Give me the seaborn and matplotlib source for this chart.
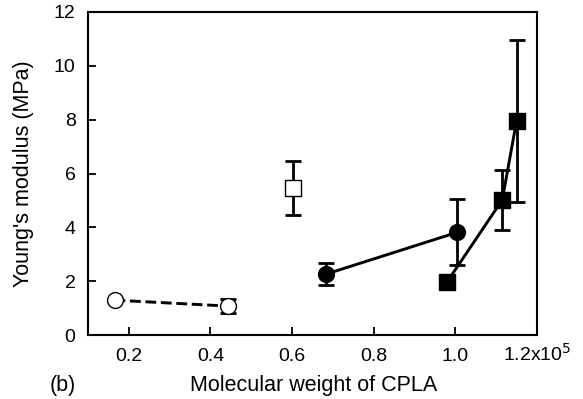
import matplotlib
matplotlib.use('Agg')
import matplotlib.pyplot as plt
import seaborn as sns
import pandas as pd

# molecular weight (x1e5) / Young's modulus (MPa) / error
open_circle_x = [0.165, 0.442]
open_circle_y = [1.30, 1.08]
open_circle_err = [0.0, 0.25]

open_square_x = [0.603]
open_square_y = [5.45]
open_square_err = [1.0]

filled_circle_x = [0.684, 1.005]
filled_circle_y = [2.27, 3.82]
filled_circle_err = [0.40, 1.22]

filled_square_x = [0.98, 1.115, 1.15]
filled_square_y = [1.98, 5.02, 7.95]
filled_square_err = [0.0, 1.12, 3.0]

x_ticks = [0.2, 0.4, 0.6, 0.8, 1.0, 1.2]
x_tick_labels = ['0.2', '0.4', '0.6', '0.8', '1.0', '1.2x10$^5$']
y_ticks = [0, 2, 4, 6, 8, 10, 12]

sns.set_style('ticks', {'axes.edgecolor': 'black', 'text.color': 'black',
                        'axes.labelcolor': 'black', 'xtick.color': 'black',
                        'ytick.color': 'black'})
plt.rcParams['font.family'] = ['Liberation Sans', 'DejaVu Sans']

fig = plt.figure(figsize=(5.83, 3.99), dpi=100)
ax = fig.add_axes([0.151, 0.160, 0.770, 0.810])

series = [
    (open_circle_x, open_circle_y, open_circle_err, 'o', 'white', '--'),
    (open_square_x, open_square_y, open_square_err, 's', 'white', ''),
    (filled_circle_x, filled_circle_y, filled_circle_err, 'o', 'black', '-'),
    (filled_square_x, filled_square_y, filled_square_err, 's', 'black', '-'),
]

for xs, ys, errs, marker, face, ls in series:
    df = pd.DataFrame({'mw': xs, 'E': ys, 'err': errs})
    ax.errorbar(df['mw'], df['E'], yerr=df['err'], fmt='none', ecolor='black',
                elinewidth=2.0, capsize=6, capthick=2.0, zorder=2)
    if ls:
        sns.lineplot(data=df, x='mw', y='E', ax=ax, color='black', linewidth=2.1,
                     linestyle=ls, sort=False, zorder=3, legend=False)
    sns.scatterplot(data=df, x='mw', y='E', ax=ax, marker=marker, s=130,
                    color=face, edgecolor='black', linewidth=1.0, zorder=4, legend=False)

ax.set_xlim(0.1, 1.2)
ax.set_ylim(0, 12)
ax.set_xticks(x_ticks)
ax.set_xticklabels(x_tick_labels, va='baseline')
ax.set_yticks(y_ticks)
ax.tick_params(direction='in', length=6, width=1.3, labelsize=14, colors='black')
ax.tick_params(axis='x', pad=18.5)
ax.tick_params(axis='y', pad=9)
for sp in ax.spines.values():
    sp.set_linewidth(1.5)
    sp.set_color('black')

ax.set_xlabel('Molecular weight of CPLA', fontsize=15.5)
ax.set_ylabel("Young's modulus (MPa)", fontsize=15.5)
ax.xaxis.set_label_coords(0.503, -0.155)
ax.xaxis.label.set_va('center')
ax.yaxis.set_label_coords(-0.143, 0.5)
ax.yaxis.label.set_va('center')
fig.text(0.108, 0.035, '(b)', fontsize=15.5, ha='center', va='center', color='black')

fig.savefig('out.png', dpi=100)
